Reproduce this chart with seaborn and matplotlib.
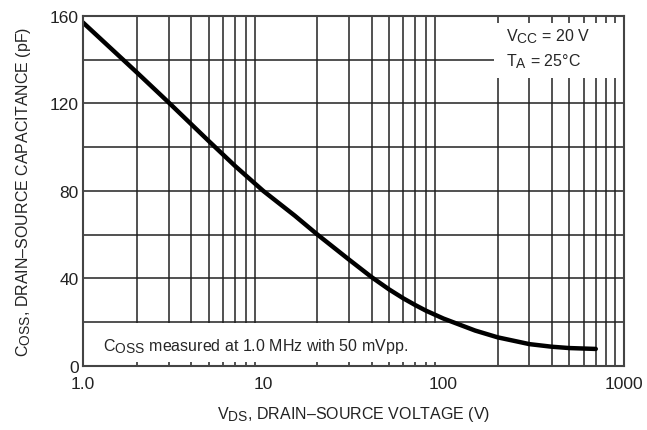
import numpy as np
import pandas as pd
import matplotlib
matplotlib.use("Agg")
import matplotlib.pyplot as plt
import matplotlib._mathtext as _mt
from matplotlib.patches import Rectangle
import seaborn as sns

# data
vds = [1.0, 2.0, 3.0, 5.0, 7.0, 10, 15, 20, 30, 40, 50, 60, 70, 80, 100, 150, 200, 300, 400, 500, 700]
coss = [157, 134, 120.3, 102.7, 91.3, 80, 68.6, 60, 48.5, 40.5, 34.9, 30.8, 27.7, 25.2, 21.6, 16.1, 13.0, 9.9, 8.7, 8.1, 7.7]
x_ticks = [1, 10, 100, 1000]
x_ticklabels = ["1.0", "10", "100", "1000"]
y_ticks = [0, 40, 80, 120, 160]

_mt.SHRINK_FACTOR = 0.86

sns.set_style("white")
plt.rcParams['font.family'] = ['Liberation Sans', 'DejaVu Sans']
plt.rcParams['mathtext.fontset'] = 'custom'
plt.rcParams['mathtext.rm'] = 'Liberation Sans'
plt.rcParams['mathtext.it'] = 'Liberation Sans'

fs_tick = 12.5
fs_txt = 11.5

df = pd.DataFrame({"vds": vds, "coss": coss})

fig = plt.figure(figsize=(6.47, 4.31), dpi=100)
ax = fig.add_axes([0.128, 0.149, 0.836, 0.812])
ax.set_xscale("log")
ax.set_xlim(1, 1000)
ax.set_ylim(0, 160)

# grid
for dec in [1, 10, 100]:
    for m in range(2, 10):
        ax.axvline(dec * m, color="#222222", lw=1.1, zorder=1)
for yv in range(20, 160, 20):
    ax.axhline(yv, color="#222222", lw=1.1, zorder=1)

# white boxes covering grid behind annotations
ax.add_patch(Rectangle((1, 1.9), 99, 17.6, facecolor="white", edgecolor="none", zorder=2))
ax.add_patch(Rectangle((190, 131.5), 810, 25.0, facecolor="white", edgecolor="none", zorder=2))

sns.lineplot(data=df, x="vds", y="coss", color="black", lw=3.2, ax=ax, zorder=4)

ax.text(1.29, 9.5, r"C$_{\mathrm{OSS}}$ measured at 1.0 MHz with 50 mVpp.", fontsize=fs_txt,
        va="center", ha="left", zorder=5)
ax.text(222, 151, r"V$_{\mathrm{CC}}$ = 20 V", fontsize=fs_txt, va="center", ha="left", zorder=5)
ax.text(222, 139.5, r"T$_{\mathrm{A}}$ = 25°C", fontsize=fs_txt, va="center", ha="left", zorder=5)

ax.set_xticks(x_ticks)
ax.set_xticklabels(x_ticklabels)
ax.set_yticks(y_ticks)
ax.minorticks_off()
ax.tick_params(axis="x", length=0, labelsize=fs_tick, pad=7, colors="#222222")
ax.tick_params(axis="y", length=0, labelsize=fs_tick, pad=3, colors="#222222")

for s in ax.spines.values():
    s.set_color("#444444")
    s.set_linewidth(1.5)
    s.set_zorder(6)

ax.set_xlabel(r"V$_{\mathrm{DS}}$, DRAIN–SOURCE VOLTAGE (V)", fontsize=fs_txt, labelpad=10, color="#222222")
ax.set_ylabel(r"C$_{\mathrm{OSS}}$, DRAIN–SOURCE CAPACITANCE (pF)", fontsize=fs_txt, labelpad=12, color="#222222")

fig.savefig("out.png", dpi=100)
